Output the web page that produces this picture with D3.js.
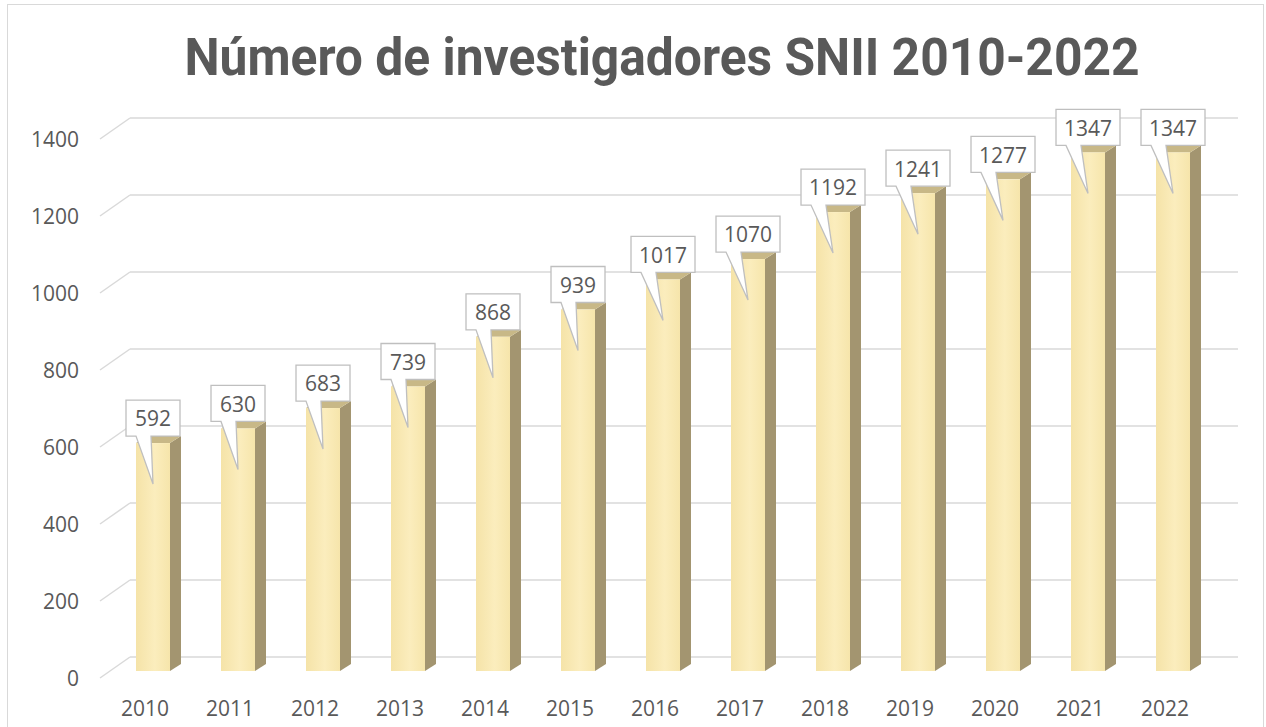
<!DOCTYPE html>
<html>
<head>
<meta charset="utf-8">
<script src="https://cdn.jsdelivr.net/npm/d3@7"></script>
<style>
  body { margin: 0; background: #fff; }
  svg { display: block; }
</style>
</head>
<body>
<svg id="chart"></svg>
<script>
const years = ["2010", "2011", "2012", "2013", "2014", "2015", "2016", "2017", "2018", "2019", "2020", "2021", "2022"];
const investigadores = [592, 630, 683, 739, 868, 939, 1017, 1070, 1192, 1241, 1277, 1347, 1347];
const yTicks = [0, 200, 400, 600, 800, 1000, 1200, 1400];
const titleText = "Número de investigadores SNII 2010-2022";

const width = 1266;
const height = 727;

// 3D-ish offsets (floor depth and bar depth)
const floorDx = 30, floorDy = -21;
const barDx = 11, barDy = -7;
const barWidth = 34;

const svg = d3.select("#chart")
    .attr("width", width)
    .attr("height", height);

svg.append("rect")
    .attr("x", 7.5).attr("y", 4.5)
    .attr("width", 1256).attr("height", 740)
    .attr("fill", "#fff")
    .attr("stroke", "#d9d9d9");

svg.append("text")
    .attr("x", 662)
    .attr("y", 75)
    .attr("text-anchor", "middle")
    .attr("textLength", 955)
    .attr("lengthAdjust", "spacingAndGlyphs")
    .style("font-family", "Roboto, 'DejaVu Sans', sans-serif")
    .style("font-weight", "bold")
    .style("font-size", "51px")
    .style("fill", "#595959")
    .text(titleText);

const x = d3.scaleBand()
    .domain(years)
    .range([110.5, 110.5 + 85 * years.length]);

// front (floor edge) scale, bar scale
const yFront = d3.scaleLinear().domain([0, 1400]).range([678, 139]);
const yBar = d3.scaleLinear().domain([0, 1400]).range([671, 132]);

const backLeft = 130, backRight = 1238;

// gridlines: back wall + diagonal on left side wall
const grid = svg.append("g");
yTicks.forEach(t => {
    const yb = yFront(t) + floorDy;
    grid.append("line")
        .attr("x1", backLeft).attr("x2", backRight)
        .attr("y1", yb).attr("y2", yb)
        .attr("stroke", "#d9d9d9").attr("stroke-width", 1.5);
    grid.append("line")
        .attr("x1", backLeft - floorDx).attr("y1", yFront(t))
        .attr("x2", backLeft).attr("y2", yb)
        .attr("stroke", "#d9d9d9").attr("stroke-width", 1.5);
});

const labelFont = "'Open Sans', sans-serif";

// y axis labels
const yAxis = svg.append("g")
    .attr("transform", "translate(79,1)")
    .call(d3.axisLeft(yFront).tickValues(yTicks).tickSize(0).tickPadding(0).tickFormat(d3.format("d")));
yAxis.select(".domain").remove();
yAxis.selectAll("text")
    .style("font-family", labelFont)
    .style("font-size", "21px")
    .style("fill", "#595959");

// x axis labels
const xAxis = svg.append("g")
    .attr("transform", "translate(-8,701)")
    .call(d3.axisBottom(x).tickSize(0).tickPadding(0));
xAxis.select(".domain").remove();
xAxis.selectAll("text")
    .attr("dy", "0.71em")
    .style("font-family", labelFont)
    .style("font-size", "21px")
    .style("fill", "#595959");

// gradient for bar fronts
const defs = svg.append("defs");
const grad = defs.append("linearGradient").attr("id", "frontGrad");
grad.append("stop").attr("offset", "0%").attr("stop-color", "#f5e3a8");
grad.append("stop").attr("offset", "55%").attr("stop-color", "#fbedbd");
grad.append("stop").attr("offset", "100%").attr("stop-color", "#f6e5ab");

const barData = years.map((y, i) => ({ year: y, value: investigadores[i] }));

const bars = svg.append("g").selectAll("g")
    .data(barData)
    .join("g");

const bx = d => x(d.year) + x.bandwidth() / 2 - barWidth / 2;

// side face
bars.append("path")
    .attr("d", d => {
        const x0 = bx(d) + barWidth, y0 = yBar(0), y1 = yBar(d.value);
        return `M${x0},${y0}L${x0},${y1}L${x0 + barDx},${y1 + barDy}L${x0 + barDx},${y0 + barDy}Z`;
    })
    .attr("fill", "#a39570");

// top face
bars.append("path")
    .attr("d", d => {
        const x0 = bx(d), y1 = yBar(d.value);
        return `M${x0},${y1}L${x0 + barWidth},${y1}L${x0 + barWidth + barDx},${y1 + barDy}L${x0 + barDx},${y1 + barDy}Z`;
    })
    .attr("fill", "#c8b887");

// front face
bars.append("rect")
    .attr("x", bx)
    .attr("y", d => yBar(d.value))
    .attr("width", barWidth)
    .attr("height", d => yBar(0) - yBar(d.value))
    .attr("fill", "url(#frontGrad)");

// callout data labels
const labels = svg.append("g").selectAll("g")
    .data(barData)
    .join("g");

labels.each(function(d) {
    const g = d3.select(this);
    const cx = x(d.year) + x.bandwidth() / 2;
    const top = yBar(d.value);
    const w = String(d.value).length > 3 ? 64 : 54;
    const h = 36;
    const left = cx - w / 2;
    const bottom = top - 7;
    const tipX = cx, tipY = top + 41;
    const path = `M${left},${bottom - h}L${left + w},${bottom - h}L${left + w},${bottom}` +
        `L${left + 25},${bottom}L${tipX},${tipY}L${left + 10},${bottom}L${left},${bottom}Z`;
    g.append("path")
        .attr("d", path)
        .attr("fill", "#fff")
        .attr("stroke", "#bfbfbf")
        .attr("stroke-width", 1.3);
    g.append("text")
        .attr("x", cx)
        .attr("y", bottom - h / 2 + 1)
        .attr("dy", "0.35em")
        .attr("text-anchor", "middle")
        .style("font-family", labelFont)
        .style("font-size", "21px")
        .style("fill", "#595959")
        .text(d.value);
});
</script>
</body>
</html>
